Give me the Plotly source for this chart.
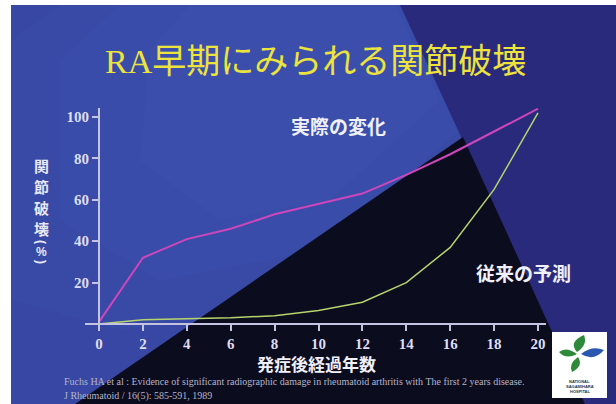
import plotly.graph_objects as go

# ---- data ----
years = [0, 2, 4, 6, 8, 10, 12, 14, 16, 18, 20]
actual_change = [1, 32, 41, 46, 53, 58, 63, 72, 82, 93, 104]
conventional_prediction = [0, 2, 2.5, 3, 4, 6.5, 10.5, 20, 37, 65, 102]
x_ticks = [0, 2, 4, 6, 8, 10, 12, 14, 16, 18, 20]
y_ticks = [20, 40, 60, 80, 100]

title_text = "<span style=\"font-family:'Liberation Serif'\">RA</span>早期にみられる関節破壊"
label_actual = "実際の変化"
label_pred = "従来の予測"
x_title = "発症後経過年数"
y_title_kanji = ["関", "節", "破", "壊"]
y_title_unit = ["(", "%", ")"]
cite1 = "Fuchs HA et al : Evidence of significant radiographic damage in rheumatoid arthritis with The first 2 years disease."
cite2 = "J Rheumatoid / 16(5): 585-591, 1989"

# ---- layout geometry (pixels) ----
W, H = 616, 404
L, R, T, B = 85, 546, 108, 330


def px(x):
    return (x - L) / (R - L)


def py(y):
    return (B - y) / (B - T)


def path(points):
    return "M " + " L ".join(f"{px(x):.5f},{py(y):.5f}" for x, y in points) + " Z"


def qpath(start, segs):
    s = f"M {px(start[0]):.5f},{py(start[1]):.5f}"
    for (cx, cy), (x, y) in segs:
        s += f" Q {px(cx):.5f},{py(cy):.5f} {px(x):.5f},{py(y):.5f}"
    return s + " Z"


fig = go.Figure()
fig.add_trace(go.Scatter(x=years, y=actual_change, mode="lines",
                         line=dict(color="#cc46bc", width=2), hoverinfo="skip"))
fig.add_trace(go.Scatter(x=years, y=conventional_prediction, mode="lines",
                         line=dict(color="#b6d46c", width=1.5), hoverinfo="skip"))

shapes = []
def poly(points, color, layer="below"):
    shapes.append(dict(type="path", path=path(points), xref="paper", yref="paper",
                       fillcolor=color, line_width=0, layer=layer))

# slide background
poly([(11, 5), (616, 5), (616, 404), (11, 404)], "#3747a3")
# soft lighter glow (stacked translucent layers)
poly([(60, 5), (400, 5), (470, 150), (330, 300), (120, 330), (11, 300), (11, 40)], "rgba(90,110,210,0.08)")
poly([(120, 5), (400, 5), (460, 130), (320, 250), (160, 280), (60, 220), (60, 60)], "rgba(90,110,210,0.07)")
poly([(190, 5), (395, 5), (440, 100), (330, 200), (220, 220), (140, 160), (150, 50)], "rgba(90,110,210,0.07)")
# navy region top right
poly([(400, 5), (616, 5), (616, 404), (585, 404)], "#2a2a7c")
# black triangle
poly([(75, 404), (463, 137), (585, 404)], "#0c0c1f")
# logo box
poly([(552, 332), (607, 332), (607, 398), (552, 398)], "#ffffff", layer="above")
# logo leaves
for start, segs, col in [
    ((577, 352), [((568, 342), (584, 335)), ((588, 345), (577, 352))], "#2e8a3a"),
    ((577, 354), [((566, 346), (559, 352)), ((566, 360), (577, 354))], "#2e8a3a"),
    ((581, 354), [((592, 345), (604, 350)), ((594, 362), (581, 354))], "#2a58b0"),
    ((578, 357), [((568, 364), (572, 372)), ((584, 366), (578, 357))], "#2e8a3a"),
]:
    shapes.append(dict(type="path", path=qpath(start, segs), xref="paper", yref="paper",
                       fillcolor=col, line_width=0, layer="above"))

ann = []
def add_text(text, x, y, size, color, family="Noto Sans CJK JP", weight="normal",
             xanchor="center", angle=0):
    ann.append(dict(text=text, x=px(x), y=py(y), xref="paper", yref="paper",
                    xanchor=xanchor, yanchor="middle", showarrow=False, textangle=angle,
                    borderpad=0,
                    font=dict(family=family, size=size, color=color, weight=weight)))

add_text(title_text, 315, 58, 34, "#ece33c")
add_text(label_actual, 338, 126, 19, "#f0f0fa", weight="bold")
add_text(label_pred, 523, 272, 19, "#f0f0fa", weight="bold")
add_text(x_title, 316, 363, 17, "#f0f0fa", weight="bold")
for ch, yy in zip(y_title_kanji, [165, 186, 207, 228]):
    add_text(ch, 41, yy, 15, "#e8e8f4", weight="bold")
add_text(y_title_unit[0], 41, 242, 12, "#e8e8f4", family="Liberation Sans", weight="bold", angle=90)
add_text(y_title_unit[1], 41, 252, 12, "#e8e8f4", family="Liberation Sans", weight="bold")
add_text(y_title_unit[2], 41, 262, 12, "#e8e8f4", family="Liberation Sans", weight="bold", angle=90)
add_text(cite1, 63, 381, 10, "#b4b4c8", family="Liberation Serif", xanchor="left")
add_text(cite2, 63, 396, 10, "#b4b4c8", family="Liberation Serif", xanchor="left")
for i, t in enumerate(["NATIONAL", "SAGAMIHARA", "HOSPITAL"]):
    add_text(t, 579.5, 381 + i * 5, 4, "#333333", family="Liberation Sans", weight="bold")

axis_color = "#c4c4e2"
fig.update_layout(
    width=W, height=H,
    margin=dict(l=L, r=W - R, t=T, b=H - B, pad=0),
    paper_bgcolor="#ffffff", plot_bgcolor="rgba(0,0,0,0)",
    showlegend=False,
    shapes=shapes, annotations=ann,
    xaxis=dict(range=[(L - 99) / 21.95, (R - 99) / 21.95], anchor="free", position=py(324),
               showgrid=False, zeroline=False, showline=True, linecolor=axis_color, linewidth=2,
               tickvals=x_ticks, ticks="outside", ticklen=6, tickwidth=1.5, tickcolor=axis_color,
               tickfont=dict(family="Liberation Serif", size=15, color="#dedef2", weight="bold")),
    yaxis=dict(range=[(324 - B) / 2.07, (324 - T) / 2.07], anchor="free", position=px(99),
               showgrid=False, zeroline=False, showline=True, linecolor=axis_color, linewidth=2,
               tickvals=y_ticks, ticks="outside", ticklen=6, tickwidth=1.5, tickcolor=axis_color,
               tickfont=dict(family="Liberation Serif", size=15, color="#dedef2", weight="bold")),
)

fig.write_html("out.html", config=dict(displayModeBar=False))
